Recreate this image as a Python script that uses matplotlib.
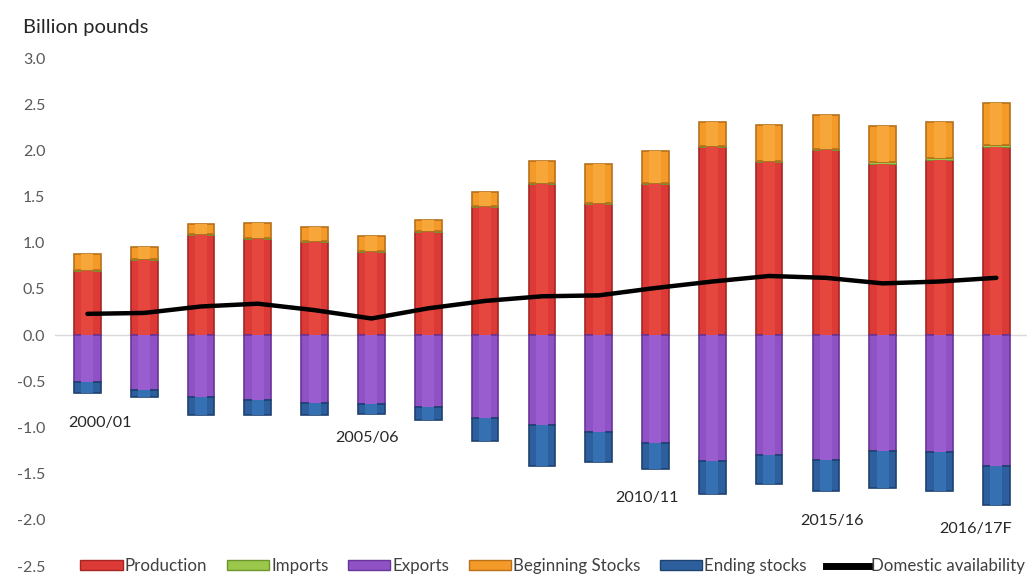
import matplotlib
matplotlib.use("Agg")
import matplotlib.pyplot as plt
import numpy as np
from matplotlib.patches import Patch
from matplotlib.lines import Line2D

years = ["2000/01", "2001/02", "2002/03", "2003/04", "2004/05", "2005/06", "2006/07",
         "2007/08", "2008/09", "2009/10", "2010/11", "2011/12", "2012/13", "2013/14",
         "2014/15", "2015/16", "2016/17F"]
production = [0.69, 0.81, 1.08, 1.04, 1.01, 0.90, 1.12, 1.39, 1.64, 1.42, 1.64, 2.04, 1.87, 2.00, 1.85, 1.90, 2.04]
imports = [0.01, 0.01, 0.01, 0.01, 0.01, 0.01, 0.01, 0.01, 0.01, 0.01, 0.01, 0.01, 0.02, 0.02, 0.02, 0.02, 0.02]
beginning_stocks = [0.18, 0.13, 0.11, 0.16, 0.15, 0.16, 0.12, 0.15, 0.23, 0.42, 0.34, 0.26, 0.39, 0.36, 0.39, 0.39, 0.45]
exports = [0.51, 0.59, 0.67, 0.70, 0.73, 0.75, 0.78, 0.90, 0.97, 1.05, 1.17, 1.36, 1.30, 1.35, 1.26, 1.27, 1.42]
ending_stocks = [0.12, 0.08, 0.19, 0.16, 0.13, 0.10, 0.14, 0.25, 0.45, 0.32, 0.28, 0.36, 0.31, 0.34, 0.39, 0.42, 0.42]
domestic = [0.23, 0.24, 0.31, 0.34, 0.27, 0.18, 0.29, 0.37, 0.42, 0.43, 0.51, 0.58, 0.64, 0.62, 0.56, 0.58, 0.62]

# category labels shown on the chart (label, x in category units, y value)
shown_labels = ["2000/01", "2005/06", "2010/11", "2015/16", "2016/17F"]
label_x = [0.22, 4.92, 9.85, 13.1, 15.64]
label_y = [-0.95, -1.11, -1.76, -2.01, -2.10]

yticks = [3.0, 2.5, 2.0, 1.5, 1.0, 0.5, 0.0, -0.5, -1.0, -1.5, -2.0, -2.5]

FONT = "Lato"
plt.rcParams["font.family"] = [FONT, "DejaVu Sans"]

fig = plt.figure(figsize=(10.27, 5.8), dpi=100)
ax = fig.add_axes([0.0536, 0.0241, 0.9464, 0.9 - 0.0241])

x = np.arange(len(years))
w = 0.47

prod = np.array(production)
imp = np.array(imports)
bs = np.array(beginning_stocks)
exp_ = np.array(exports)
es = np.array(ending_stocks)

c_prod, e_prod = "#DC3A36", "#A52622"
c_imp, e_imp = "#9BC84B", "#6E9430"
c_exp, e_exp = "#8E52C4", "#6A3598"
c_bs, e_bs = "#F39A28", "#B8701A"
c_es, e_es = "#2D5F9E", "#1E4270"

ax.bar(x, prod, w, color=c_prod, edgecolor=e_prod, linewidth=1.2, zorder=2)
ax.bar(x, imp, w, bottom=prod, color=c_imp, edgecolor=e_imp, linewidth=0.6, zorder=2)
ax.bar(x, bs, w, bottom=prod + imp, color=c_bs, edgecolor=e_bs, linewidth=1.2, zorder=2)
ax.bar(x, -exp_, w, color=c_exp, edgecolor=e_exp, linewidth=1.2, zorder=2)
ax.bar(x, -es, w, bottom=-exp_, color=c_es, edgecolor=e_es, linewidth=1.2, zorder=2)

# lighter centre strips for a shaded look
ax.bar(x, prod, w * 0.45, color="#E5473F", linewidth=0, zorder=2.1)
ax.bar(x, bs, w * 0.45, bottom=prod + imp, color="#F7A73A", linewidth=0, zorder=2.1)
ax.bar(x, -exp_, w * 0.45, color="#9A5DD0", linewidth=0, zorder=2.1)
ax.bar(x, -es, w * 0.45, bottom=-exp_, color="#3570B3", linewidth=0, zorder=2.1)

ax.plot(x, domestic, color="black", linewidth=3.2, zorder=3, solid_capstyle="round")

ax.axhline(0, color="#D9D9D9", linewidth=1.0, zorder=1)

for lab, lx, ly in zip(shown_labels, label_x, label_y):
    ax.text(lx, ly, lab, ha="center", va="center", fontsize=11.6, color="#262626")

ax.set_xlim(-0.57, 16.54)
ax.set_ylim(-2.5, 3.0)
ax.set_yticks(yticks)
ax.set_yticklabels([f"{v:.1f}" for v in yticks], fontsize=11.5, color="#595959")
ax.set_xticks([])
ax.tick_params(axis="y", length=0, pad=7)
for s in ax.spines.values():
    s.set_visible(False)

fig.text(0.022, 0.952, "Billion pounds", fontsize=14.5, color="#262626", va="center", ha="left")

handles = [
    Patch(facecolor=c_prod, edgecolor=e_prod),
    Patch(facecolor=c_imp, edgecolor=e_imp),
    Patch(facecolor=c_exp, edgecolor=e_exp),
    Patch(facecolor=c_bs, edgecolor=e_bs),
    Patch(facecolor=c_es, edgecolor=e_es),
    Line2D([0], [0], color="black", linewidth=5),
]
labels = ["Production", "Imports", "Exports", "Beginning Stocks", "Ending stocks", "Domestic availability"]
fig.legend(handles, labels, loc="center", bbox_to_anchor=(0.538, 0.024), ncol=6, frameon=False,
           fontsize=12.2, handlelength=2.5, handleheight=0.55, handletextpad=0.12,
           columnspacing=1.15, labelcolor="#404040")

fig.savefig("out.png", dpi=100)
